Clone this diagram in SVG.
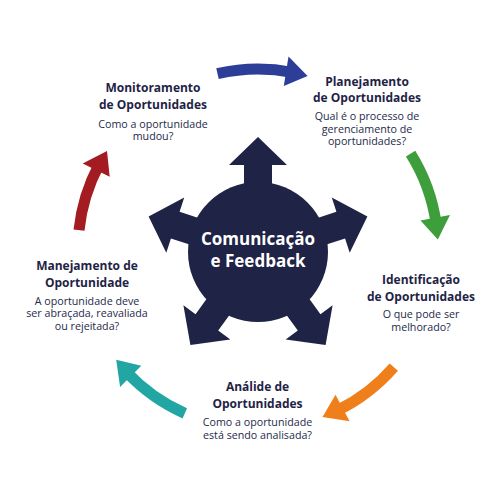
<svg xmlns="http://www.w3.org/2000/svg" width="500" height="500" viewBox="0 0 500 500">
  <style>
    .t { font-family: "Open Sans", "Noto Sans", "Liberation Sans", sans-serif; fill: #1f2345; text-anchor: middle; }
    .h { font-weight: 700; font-size: 12px; }
    .d { font-weight: 400; font-size: 10.7px; fill: #262a4a; }
    .c { font-family: "Open Sans", "Noto Sans", "Liberation Sans", sans-serif; font-weight: 700; font-size: 17px; fill: #ffffff; text-anchor: middle; }
    .shaft { fill: none; stroke-width: 11; }
  </style>
  <defs>
    <path id="spoke" d="M-14,-60 L-14,-87 L-29,-87 L0,-115 L29,-87 L14,-87 L14,-60 Z" fill="#1f2345"/>
  </defs>
  <rect width="500" height="500" fill="#ffffff"/>

  <g id="connectors">
    <g id="arrow-blue">
      <path class="shaft" stroke="#2c3e98" d="M217.5,73.6 A180,180 0 0 1 292.3,72.3"/>
      <polygon fill="#2c3e98" points="283.8,86 288.5,56.4 307.6,76"/>
    </g>
    <g id="arrow-green">
      <path class="shaft" stroke="#3d9e3b" d="M410.6,153.6 A180,180 0 0 1 436.2,223.9"/>
      <polygon fill="#3d9e3b" points="420.5,220.4 450,215.1 437.8,239.6"/>
    </g>
    <g id="arrow-orange">
      <path class="shaft" stroke="#ef7f1a" d="M393.8,367.1 A180,180 0 0 1 336.9,410.8"/>
      <polygon fill="#ef7f1a" points="335.5,394.7 349.6,421.2 322.5,417"/>
    </g>
    <g id="arrow-teal">
      <path class="shaft" stroke="#21a6a3" d="M184.8,413.4 A180,180 0 0 1 126.3,371.8"/>
      <polygon fill="#21a6a3" points="141.3,365.7 120.1,386.9 116.2,359.8"/>
    </g>
    <g id="arrow-red">
      <path class="shaft" stroke="#a21c21" d="M79,230.2 A180,180 0 0 1 99.1,164.5"/>
      <polygon fill="#a21c21" points="109.7,176.7 82.7,163.5 107,151"/>
    </g>
  </g>

  <g id="center-node">
    <g transform="translate(258,252)">
      <use href="#spoke"/>
      <use href="#spoke" transform="rotate(72)"/>
      <use href="#spoke" transform="rotate(144)"/>
      <use href="#spoke" transform="rotate(216)"/>
      <use href="#spoke" transform="rotate(288)"/>
      <circle r="70" fill="#1f2345"/>
    </g>
    <text class="c" x="258" y="245">Comunicação</text>
    <text class="c" x="258" y="267">e Feedback</text>
  </g>

  <g id="node-monitoramento">
    <text class="t h" x="153" y="92">Monitoramento</text>
    <text class="t h" x="153" y="109">de Oportunidades</text>
    <text class="t d" x="153" y="127.5">Como a oportunidade</text>
    <text class="t d" x="153" y="140">mudou?</text>
  </g>

  <g id="node-planejamento">
    <text class="t h" x="367" y="85.5">Planejamento</text>
    <text class="t h" x="367" y="102">de Oportunidades</text>
    <text class="t d" x="367" y="120">Qual é o processo de</text>
    <text class="t d" x="367" y="132.5">gerenciamento de</text>
    <text class="t d" x="367" y="145">oportunidades?</text>
  </g>

  <g id="node-identificacao">
    <text class="t h" x="421" y="284">Identificação</text>
    <text class="t h" x="421" y="300.5">de Oportunidades</text>
    <text class="t d" x="421" y="318">O que pode ser</text>
    <text class="t d" x="421" y="330.5">melhorado?</text>
  </g>

  <g id="node-analide">
    <text class="t h" x="257.5" y="390.5">Análide de</text>
    <text class="t h" x="257.5" y="407.5">Oportunidades</text>
    <text class="t d" x="257.5" y="426">Como a oportunidade</text>
    <text class="t d" x="257.5" y="438.5">está sendo analisada?</text>
  </g>

  <g id="node-manejamento">
    <text class="t h" x="87" y="270">Manejamento de</text>
    <text class="t h" x="87" y="286.5">Oportunidade</text>
    <text class="t d" x="87" y="304.5">A oportunidade deve</text>
    <text class="t d" x="87" y="317">ser abraçada, reavaliada</text>
    <text class="t d" x="87" y="329.5">ou rejeitada?</text>
  </g>
</svg>
